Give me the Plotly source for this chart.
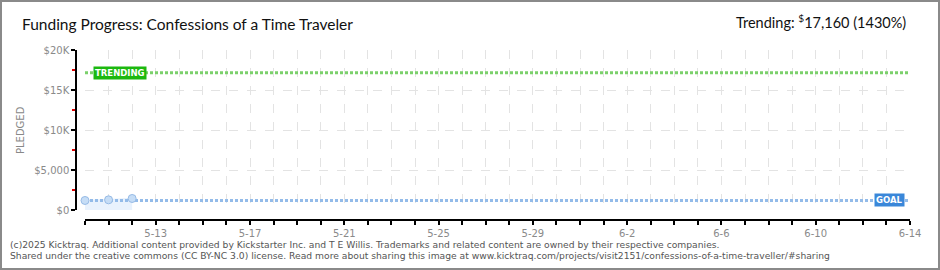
import plotly.graph_objects as go
import pandas as pd

# ---- data ----
dates = ["2025-05-10", "2025-05-11", "2025-05-12"]
pledged = [1190, 1270, 1440]
goal = 1200
trending = 17160
trend_pct = 1430
line_x = ["2025-05-10", "2025-06-14"]
y_tickvals = [0, 5000, 10000, 15000, 20000]
y_ticktext = ["$0", "$5,000", "$10K", "$15K", "$20K"]
y_minorvals = [2500, 7500, 12500, 17500]
title = "Funding Progress: Confessions of a Time Traveler"
footer1 = "(c)2025 Kicktraq. Additional content provided by Kickstarter Inc. and T E Willis. Trademarks and related content are owned by their respective companies."
footer2 = "Shared under the creative commons (CC BY-NC 3.0) license. Read more about sharing this image at www.kicktraq.com/projects/visit2151/confessions-of-a-time-traveller/#sharing"

W, H = 940, 270
ML, MR, MT, MB = 76, 30, 50, 50
PW, PH = W - ML - MR, H - MT - MB

day_ticks = [d.strftime("%Y-%m-%d") for d in pd.date_range(line_x[0], line_x[1], freq="D")]
label_ticks = [d.strftime("%Y-%m-%d") for d in pd.date_range("2025-05-13", line_x[1], freq="4D")]
label_text = [pd.Timestamp(d).strftime("%-m-%-d") for d in label_ticks]

fig = go.Figure()

fig.add_trace(go.Scatter(
    x=dates, y=pledged, mode="lines", fill="tozeroy",
    line=dict(color="#e3eefb", width=1), fillcolor="rgba(226,238,252,0.75)",
    hoverinfo="skip", showlegend=False))
fig.add_trace(go.Scatter(
    x=line_x, y=[goal, goal], mode="lines",
    line=dict(color="#93bbe9", width=3, dash="3px,2px"), showlegend=False))
fig.add_trace(go.Scatter(
    x=line_x, y=[trending, trending], mode="lines",
    line=dict(color="#7bd06b", width=3, dash="3px,2px"), showlegend=False))
fig.add_trace(go.Scatter(
    x=dates, y=pledged, mode="markers", cliponaxis=False,
    marker=dict(size=8, color="#c6ddf6", line=dict(color="#97bbe6", width=1)),
    showlegend=False))

tickfont = dict(family="DejaVu Sans", size=10, color="#8a8a8a")

fig.update_xaxes(
    type="date", range=[line_x[0], line_x[1]],
    domain=[9 / PW, 1], anchor="free", position=0,
    tickmode="array", tickvals=label_ticks, ticktext=label_text,
    ticks="outside", ticklen=4, tickwidth=1.5, tickcolor="#000",
    showline=True, linecolor="#000", linewidth=2,
    showgrid=True, gridcolor="#e3e3e3", griddash="dash", gridwidth=1,
    zeroline=False, tickfont=tickfont,
    minor=dict(tickmode="array", tickvals=day_ticks, ticks="outside", ticklen=4,
               tickcolor="#000", tickwidth=1.5, showgrid=True,
               gridcolor="#e3e3e3", griddash="dash", gridwidth=1),
)
fig.update_yaxes(
    range=[0, 20000], domain=[10 / PH, 1], anchor="free", position=0,
    tickmode="array", tickvals=y_tickvals, ticktext=y_ticktext,
    ticks="outside", ticklen=4, tickwidth=1.5, tickcolor="#000",
    showline=True, linecolor="#000", linewidth=1.5,
    showgrid=True, gridcolor="#e3e3e3", griddash="dash", gridwidth=1,
    zeroline=False, tickfont=tickfont,
    minor=dict(tickmode="array", tickvals=y_minorvals, ticks="outside", ticklen=3,
               tickcolor="#e00000", tickwidth=1.5, showgrid=False),
)

anns = [
    dict(text=title, xref="paper", yref="paper", x=(20 - ML) / PW, y=(MT + PH - 24) / PH,
         xanchor="left", yanchor="middle", showarrow=False,
         font=dict(family="Lato", size=15.5, color="#111")),
    dict(text=f"Trending: <sup>$</sup>{trending:,} ({trend_pct}%)",
         xref="paper", yref="paper", x=(908 - ML) / PW, y=(MT + PH - 22) / PH,
         xanchor="right", yanchor="middle", showarrow=False,
         font=dict(family="Lato", size=14.5, color="#111")),
    dict(text="PLEDGED", textangle=-90, xref="paper", yref="paper",
         x=(20 - ML) / PW, y=(MT + PH - 130) / PH, xanchor="center", yanchor="middle",
         showarrow=False, font=dict(family="DejaVu Sans", size=10, color="#888")),
    dict(text="<b>TRENDING</b>", x="2025-05-11 12:00", y=trending, xanchor="center", yanchor="middle",
         showarrow=False, bgcolor="#1cb80f", borderpad=1,
         font=dict(family="DejaVu Sans", size=8.5, color="#fff")),
    dict(text="<b>GOAL</b>", x=line_x[1], y=goal, xanchor="right", yanchor="middle", xshift=-5,
         showarrow=False, bgcolor="#3a87d9", borderpad=1,
         font=dict(family="DejaVu Sans", size=8.5, color="#fff")),
    dict(text=footer1, xref="paper", yref="paper", x=(8 - ML) / PW, y=(MT + PH - 244) / PH,
         xanchor="left", yanchor="middle", showarrow=False,
         font=dict(family="DejaVu Sans", size=9.2, color="#555")),
    dict(text=footer2, xref="paper", yref="paper", x=(8 - ML) / PW, y=(MT + PH - 256) / PH,
         xanchor="left", yanchor="middle", showarrow=False,
         font=dict(family="DejaVu Sans", size=9.2, color="#555")),
]

fig.update_layout(
    width=W, height=H, margin=dict(l=ML, r=MR, t=MT, b=MB),
    paper_bgcolor="#fff", plot_bgcolor="#fff",
    annotations=anns, showlegend=False,
    shapes=[dict(type="rect", xref="paper", yref="paper",
                 x0=(1 - ML) / PW, x1=(W - 1 - ML) / PW,
                 y0=(MT + PH - (H - 1)) / PH, y1=(MT + PH - 1) / PH,
                 line=dict(color="#8a8a8a", width=2), layer="above")],
)

fig.write_html("out.html", config=dict(displayModeBar=False))
